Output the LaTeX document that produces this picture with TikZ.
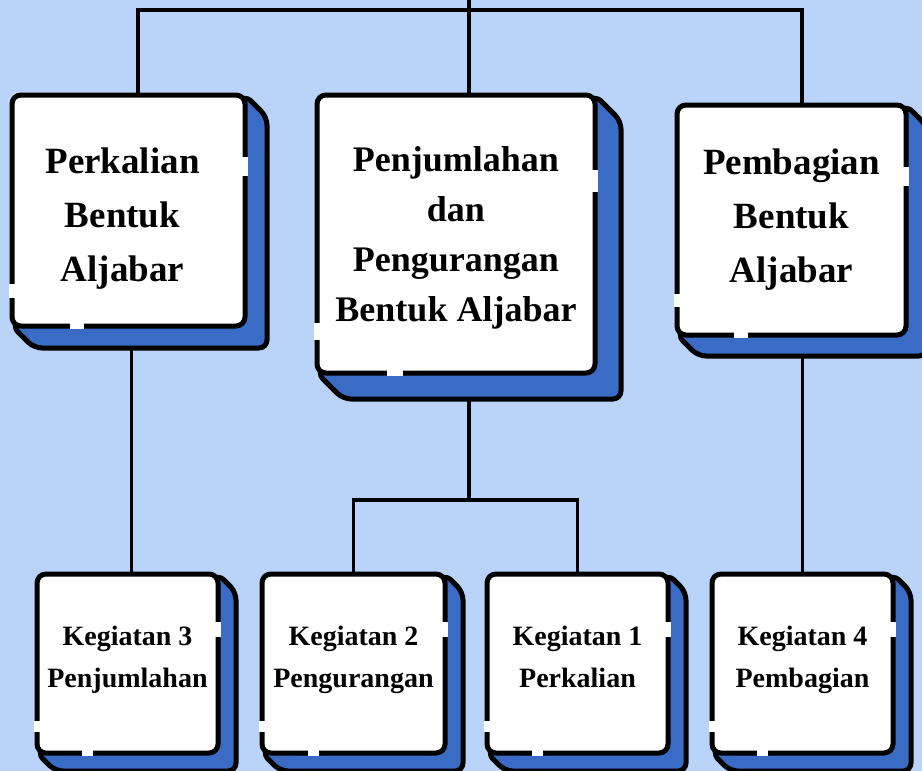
\documentclass[tikz,border=0pt]{standalone}
\usepackage{fontspec}
\setmainfont{Liberation Serif}
\usetikzlibrary{calc}
\definecolor{bgblue}{HTML}{B9D4F8}
\definecolor{shblue}{HTML}{3A6BC5}
\pgfdeclarelayer{bglayer}
\pgfdeclarelayer{linelayer}
\pgfdeclarelayer{shadowlayer}
\pgfsetlayers{bglayer,linelayer,shadowlayer,main}
\tikzset{
  face/.style={draw=black, fill=white, line width=5pt, rounded corners=9pt,
    inner sep=0pt, outer sep=0pt, align=center},
  label text/.style={inner sep=0pt, align=center},
  bigtext/.style={font=\bfseries\fontsize{37}{54}\selectfont},
  midtext/.style={font=\bfseries\fontsize{36}{50}\selectfont},
  smalltext/.style={font=\bfseries\fontsize{28}{42}\selectfont},
  conn/.style={draw=black, line width=3.5pt},
  shadowpath/.style={fill=shblue, draw=black, line width=5pt, rounded corners=8pt, line join=round},
  gapline/.style={draw=white, line width=6.5pt},
}
\newcommand\boxdeco[2]{%
  \begin{pgfonlayer}{shadowlayer}
    \path[shadowpath] (#1.north east) -- ($(#1.north east)+(#2,#2)$)
      -- ($(#1.south east)+(#2,#2)$) -- ($(#1.south west)+(#2,#2)$)
      -- (#1.south west) -- cycle;
  \end{pgfonlayer}
  \path[gapline] ($(#1.north east)!0.27!(#1.south east)$) -- ($(#1.north east)!0.35!(#1.south east)$);
  \path[gapline] ($(#1.north west)!0.82!(#1.south west)$) -- ($(#1.north west)!0.88!(#1.south west)$);
  \path[gapline] ($(#1.south west)!0.25!(#1.south east)$) -- ($(#1.south west)!0.31!(#1.south east)$);
}
\begin{document}
\begin{tikzpicture}[x=1pt,y=-1pt]
\useasboundingbox (0,0) rectangle (922,771);
\begin{pgfonlayer}{bglayer}
  \fill[bgblue] (0,0) rectangle (922,771);
\end{pgfonlayer}

% top row boxes
\node[face, minimum width=233pt, minimum height=231pt] (P) at (128.5,210.5) {};
\node[face, minimum width=278pt, minimum height=278pt] (M) at (456,234) {};
\node[face, minimum width=229pt, minimum height=230pt] (R) at (791.5,220) {};

% bottom row boxes
\node[face, minimum width=181pt, minimum height=179pt] (K3) at (127.5,663.5) {};
\node[face, minimum width=183pt, minimum height=179pt] (K2) at (353.5,663.5) {};
\node[face, minimum width=181pt, minimum height=179pt] (K1) at (577.5,663.5) {};
\node[face, minimum width=181pt, minimum height=179pt] (K4) at (802.5,663.5) {};

\boxdeco{P}{22}
\boxdeco{M}{26}
\boxdeco{R}{21}
\boxdeco{K3}{18}
\boxdeco{K2}{18}
\boxdeco{K1}{18}
\boxdeco{K4}{18}

% texts
\node[label text, bigtext] (Pt) at ([xshift=-6pt,yshift=-8pt]P.center) {Perkalian\\Bentuk\\Aljabar};
\node[label text, midtext] (Mt) at ([yshift=-4pt]M.center) {Penjumlahan\\dan\\Pengurangan\\Bentuk Aljabar};
\node[label text, bigtext] (Rt) at (R.center) {Pembagian\\Bentuk\\Aljabar};
\node[label text, smalltext] (K3t) at (K3.center) {Kegiatan 3\\Penjumlahan\strut};
\node[label text, smalltext] (K2t) at (K2.center) {Kegiatan 2\\Pengurangan\strut};
\node[label text, smalltext] (K1t) at (K1.center) {Kegiatan 1\\Perkalian\strut};
\node[label text, smalltext] (K4t) at (K4.center) {Kegiatan 4\\Pembagian\strut};

% connectors
\coordinate (root) at (469,0);
\coordinate (jl) at (138,10);
\coordinate (jr) at (802,10);
\coordinate (mj) at (469,500);
\begin{pgfonlayer}{linelayer}
  \draw[conn] (root) -- (root |- M.center);
  \draw[conn] (jl |- P.center) -- (jl) -- (jr) -- (jr |- R.center);
  \draw[conn] ([xshift=4pt]K3.north) -- ([xshift=4pt]K3.north |- P.center);
  \draw[conn] (mj |- M.center) -- (mj);
  \draw[conn] (K2.north) |- (mj) -| (K1.north);
  \draw[conn] (K4.north) -- (K4.north |- R.center);
\end{pgfonlayer}
\end{tikzpicture}
\end{document}
